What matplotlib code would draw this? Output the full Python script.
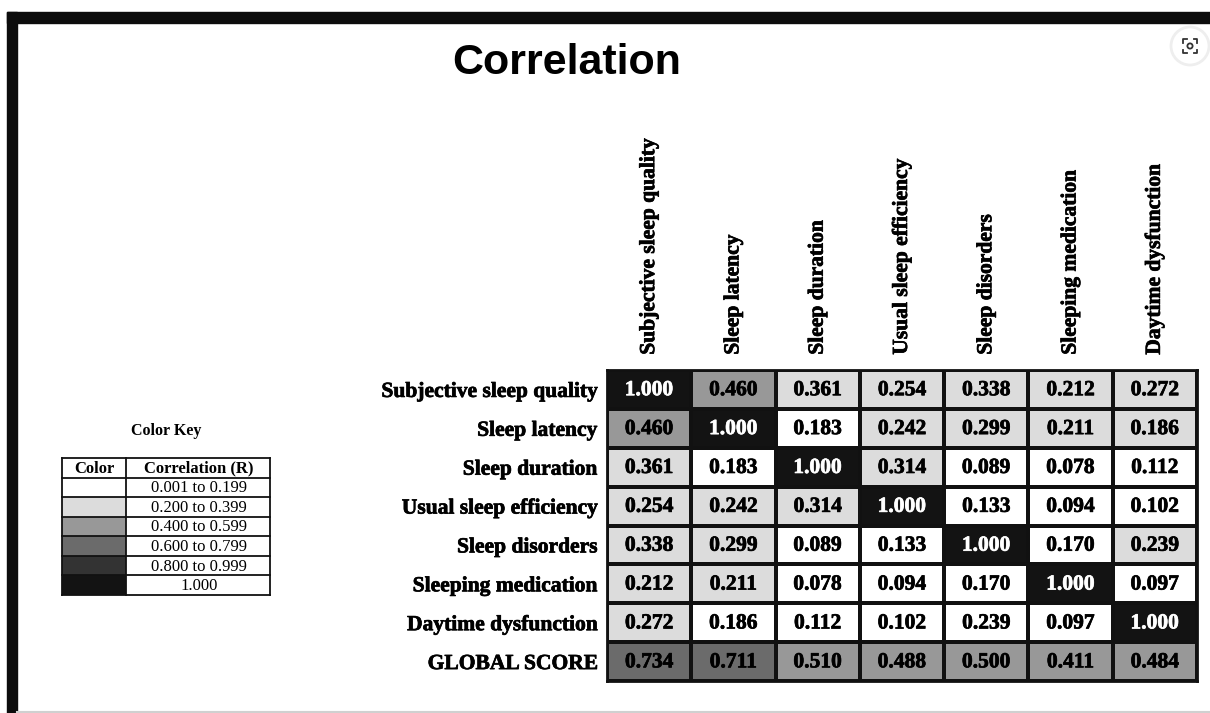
import numpy as np
import matplotlib
matplotlib.use("Agg")
import matplotlib.pyplot as plt
import matplotlib.patheffects as pe
from matplotlib.colors import ListedColormap
from matplotlib.patches import Rectangle, Circle

# PSQI components
components = ["Subjective sleep quality", "Sleep latency", "Sleep duration",
              "Usual sleep efficiency", "Sleep disorders", "Sleeping medication",
              "Daytime dysfunction"]
row_labels = components + ["GLOBAL SCORE"]

corr = np.array([
    [1.000, 0.460, 0.361, 0.254, 0.338, 0.212, 0.272],
    [0.460, 1.000, 0.183, 0.242, 0.299, 0.211, 0.186],
    [0.361, 0.183, 1.000, 0.314, 0.089, 0.078, 0.112],
    [0.254, 0.242, 0.314, 1.000, 0.133, 0.094, 0.102],
    [0.338, 0.299, 0.089, 0.133, 1.000, 0.170, 0.239],
    [0.212, 0.211, 0.078, 0.094, 0.170, 1.000, 0.097],
    [0.272, 0.186, 0.112, 0.102, 0.239, 0.097, 1.000],
    [0.734, 0.711, 0.510, 0.488, 0.500, 0.411, 0.484],
])

# shade class as printed in the source table (0 = white ... 5 = black)
shade = np.array([
    [5, 2, 1, 1, 1, 1, 1],
    [2, 5, 0, 1, 1, 1, 1],
    [1, 0, 5, 1, 0, 0, 0],
    [1, 1, 1, 5, 0, 0, 0],
    [1, 1, 0, 0, 5, 0, 1],
    [1, 1, 0, 0, 0, 5, 0],
    [1, 0, 0, 0, 0, 0, 5],
    [3, 3, 2, 2, 2, 2, 2],
])

key_ranges = ["0.001 to 0.199", "0.200 to 0.399", "0.400 to 0.599",
              "0.600 to 0.799", "0.800 to 0.999", "1.000"]
key_colors = ["#ffffff", "#dcdcdc", "#989898", "#6b6b6b", "#333333", "#131313"]

W, H = 1210, 713
serif = "Liberation Serif"
# the scanned table looks heavier than plain bold
heavy = [pe.withStroke(linewidth=0.5, foreground="black")]
heavy_w = [pe.withStroke(linewidth=0.5, foreground="white")]


def box(l, t, r, b):
    return [l / W, 1 - b / H, (r - l) / W, (b - t) / H]


fig = plt.figure(figsize=(W / 100, H / 100), dpi=100)

# screenshot frame
bg = fig.add_axes([0, 0, 1, 1])
bg.set_xlim(0, W)
bg.set_ylim(H, 0)
bg.axis("off")
bg.add_patch(Rectangle((7, 12), W - 7, 10.5, color="#0c0c0c"))
bg.add_patch(Rectangle((7, 12), 10, H - 12, color="#0c0c0c"))
bg.plot([17, W], [711.5, 711.5], color="#d0d0d0", lw=1.5)
# little lens button in the corner
bg.add_patch(Circle((1190, 46), 19, facecolor="white", edgecolor="#eeeeee", lw=2))
bg.add_patch(Circle((1190, 46), 2.6, facecolor="none", edgecolor="#333333", lw=1.3))
for sx in (-1, 1):
    for sy in (-1, 1):
        cx, cy = 1190 + sx * 7, 46 + sy * 7
        bg.plot([cx, cx, cx - sx * 3.5], [cy - sy * 3.5, cy, cy], color="#333333", lw=1.3)

fig.text(567 / W, 1 - 63 / H, "Correlation", ha="center", va="center",
         fontsize=31, fontweight="bold", family="Liberation Sans")

# correlation table
ax = fig.add_axes(box(607, 370, 1197, 681))
ax.pcolormesh(shade, cmap=ListedColormap(key_colors), vmin=-0.5, vmax=5.5,
              edgecolors="#111111", linewidth=1.6)
ax.set_xlim(0, 7)
ax.set_ylim(8, 0)
for i in range(corr.shape[0]):
    for j in range(corr.shape[1]):
        dark = shade[i, j] >= 4
        ax.text(j + 0.5, i + 0.52, f"{corr[i, j]:.3f}", ha="center", va="center",
                fontsize=15.5, fontweight="bold", family=serif,
                color="white" if dark else "black",
                path_effects=heavy_w if dark else heavy)
ax.set_xticks(np.arange(len(components)) + 0.5)
ax.set_xticklabels(components, rotation=90, fontsize=15.5, fontweight="bold", family=serif,
                   path_effects=heavy)
ax.set_yticks(np.arange(len(row_labels)) + 0.5)
ax.set_yticklabels(row_labels, fontsize=15.5, fontweight="bold", family=serif,
                   path_effects=heavy)
ax.xaxis.tick_top()
ax.tick_params(axis="x", length=0, pad=11)
ax.tick_params(axis="y", length=0, pad=7)
for s in ax.spines.values():
    s.set_linewidth(2)
    s.set_color("#111111")

# colour key
fig.text(166 / W, 1 - 431 / H, "Color Key", ha="center", va="center",
         fontsize=11.5, fontweight="bold", family=serif)
kx = fig.add_axes(box(62, 458, 270, 595))
kx.set_xlim(0, 208)
kx.set_ylim(len(key_ranges) + 1, 0)
kx.axis("off")
kx.text(32, 0.55, "Color", ha="center", va="center", fontsize=12, fontweight="bold", family=serif)
kx.text(137, 0.55, "Correlation (R)", ha="center", va="center", fontsize=12,
        fontweight="bold", family=serif)
for k, (lab, col) in enumerate(zip(key_ranges, key_colors)):
    kx.add_patch(Rectangle((0, k + 1), 64, 1, facecolor=col, edgecolor="none"))
    kx.text(137, k + 1.55, lab, ha="center", va="center", fontsize=12, family=serif)
for y in range(len(key_ranges) + 2):
    kx.plot([0, 208], [y, y], color="#111111", lw=1.3, clip_on=False)
for x in (0, 64, 208):
    kx.plot([x, x], [0, len(key_ranges) + 1], color="#111111", lw=1.3, clip_on=False)

fig.savefig("out.png", dpi=100)
